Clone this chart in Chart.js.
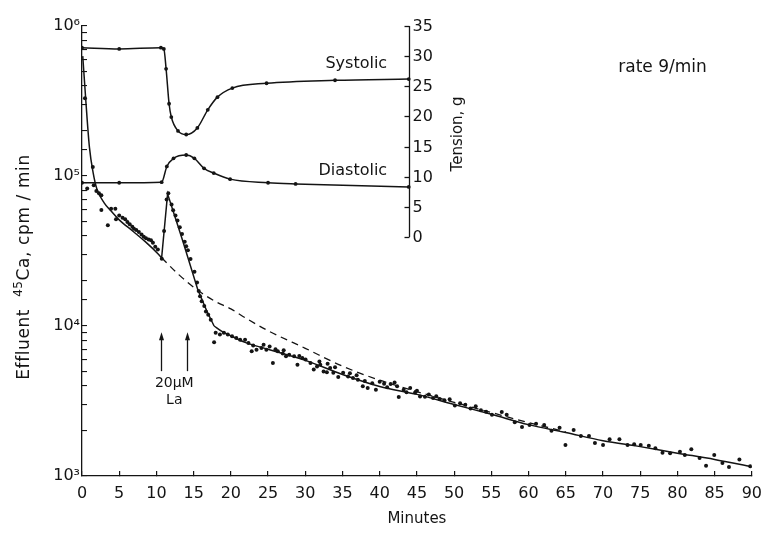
<!DOCTYPE html>
<html>
<head>
<meta charset="utf-8">
<script src="https://cdn.jsdelivr.net/npm/chart.js@4.4.1/dist/chart.umd.min.js"></script>
<style>
html,body{margin:0;padding:0;background:#fff;}
#box{position:relative;width:775px;height:533px;}
</style>
</head>
<body>
<div id="box"><canvas id="chart" width="775" height="533"></canvas></div>
<script>
// ---------------- data ----------------
const xTickLabels = [0,5,10,15,20,25,30,35,40,45,50,55,60,65,70,75,80,85,90];
const yDecades = [1e3, 1e4, 1e5, 1e6];
const tensionTicks = [0,5,10,15,20,25,30,35];

// effluent 45Ca, cpm/min (scatter)
const effluentMin = [
  0.40,0.70,1.45,1.58,1.93,2.28,2.60,2.60,3.47,3.91,4.48,4.57,5.00,5.45,5.80,6.10,6.41,6.76,6.98,7.29,
  7.64,8.00,8.30,8.60,8.96,9.27,9.53,9.84,10.19,10.72,
  11.03,11.37,11.60,12.03,12.25,12.56,12.83,13.14,13.44,13.80,14.00,14.23,14.58,15.11,15.46,15.68,15.86,16.08,16.43,16.65,
  16.96,17.30,17.75,17.96,18.53,19.06,19.59,20.16,20.73,21.25,21.91,
  22.36,22.80,23.45,24.11,24.77,25.21,25.65,26.31,26.97,27.41,27.84,28.50,28.95,29.60,30.04,30.70,31.14,31.58,32.02,32.46,
  32.90,33.34,33.77,34.43,35.09,35.75,36.41,37.07,37.73,38.39,39.49,40.59,41.47,42.34,42.56,43.22,44.10,44.76,45.42,46.08,
  47.17,48.06,
  23.0,24.4,26.0,27.1,29.2,31.9,33.0,34.0,36.0,36.9,38.0,39.0,40.0,41.0,42.0,43.6,45.0,46.6,47.6,
  48.7,49.4,50.1,50.8,51.5,52.2,52.9,53.6,54.3,
  55.08,56.40,57.06,58.15,59.12,60.13,61.01,62.10,63.08,64.17,64.96,66.06,67.03,68.12,68.92,70.01,70.89,72.21,73.30,74.19,
  75.07,76.16,77.04,78.00,79.02,80.34,81.00,81.87,82.98,83.85,84.95,86.05,86.93,88.33,89.78
];
const effluentCpm = [
  3.3e5,8.24e4,1.15e5,8.67e4,7.94e4,7.66e4,7.43e4,5.93e4,4.69e4,6.06e4,6.06e4,5.14e4,5.46e4,5.27e4,5.14e4,4.93e4,4.76e4,4.59e4,4.45e4,4.36e4,
  4.23e4,4.08e4,3.94e4,3.85e4,3.78e4,3.73e4,3.59e4,3.38e4,3.24e4,2.81e4,
  4.3e4,6.98e4,7.66e4,6.45e4,5.9e4,5.45e4,5.05e4,4.55e4,4.1e4,3.65e4,3.4e4,3.2e4,2.8e4,2.3e4,1.95e4,1.71e4,1.58e4,1.46e4,1.36e4,1.25e4,
  1.19e4,1.10e4,7.78e3,9.0e3,8.77e3,9.0e3,8.77e3,8.53e3,8.32e3,8.11e3,8.11e3,
  7.71e3,6.78e3,6.95e3,7.13e3,6.95e3,7.31e3,5.66e3,6.78e3,6.55e3,6.28e3,6.44e3,6.28e3,5.52e3,6.12e3,5.97e3,5.66e3,5.12e3,5.38e3,5.52e3,4.98e3,
  4.91e3,5.25e3,4.87e3,4.57e3,4.87e3,4.61e3,4.50e3,4.38e3,3.96e3,3.86e3,3.76e3,4.12e3,4.10e3,3.96e3,3.36e3,3.76e3,3.86e3,3.60e3,3.39e3,3.37e3,
  3.31e3,3.26e3,
  7.4e3,7.5e3,7.0e3,6.9e3,6.3e3,5.8e3,5.6e3,5.3e3,4.85e3,4.7e3,4.3e3,4.15e3,4.25e3,3.9e3,4.2e3,3.62e3,3.7e3,3.5e3,3.4e3,
  3.2e3,3.25e3,2.95e3,3.05e3,2.98e3,2.82e3,2.92e3,2.74e3,2.68e3,
  2.56e3,2.67e3,2.56e3,2.28e3,2.12e3,2.19e3,2.23e3,2.19e3,2.00e3,2.10e3,1.61e3,2.03e3,1.85e3,1.85e3,1.66e3,1.61e3,1.76e3,1.76e3,1.61e3,1.63e3,
  1.61e3,1.59e3,1.53e3,1.43e3,1.42e3,1.45e3,1.38e3,1.51e3,1.32e3,1.17e3,1.38e3,1.22e3,1.15e3,1.29e3,1.16e3
];

// fitted washout curve (solid), in three pieces
const fitEarlyMin = [0.1,0.5,1.0,1.5,2.0,3.0,3.7,5.0,6.8,8.5,10.3,10.7];
const fitEarlyCpm = [6.3e5,3.25e5,1.55e5,1.05e5,8.2e4,6.6e4,6.0e4,5.1e4,4.3e4,3.65e4,3.0e4,2.85e4];
const spikeMin = [10.7,11.5,13.5,15.55,16.8,17.75];
const spikeCpm = [2.85e4,7.6e4,3.75e4,1.75e4,1.25e4,1.0e4];
const tailMin = [17.75,18.8,20,22,25,30,35,40,45,50,55,60,65,70,75,80,85,90];
const tailCpm = [1.0e4,9.2e3,8.6e3,7.75e3,7.0e3,5.9e3,4.75e3,3.95e3,3.5e3,3.0e3,2.58e3,2.2e3,1.95e3,1.72e3,1.57e3,1.42e3,1.29e3,1.15e3];
// extrapolated washout without La (dashed)
const dashMin = [10.7,13,15.55,18,20,22,25,30,35,40,45,50,55,60,65];
const dashCpm = [2.85e4,2.2e4,1.73e4,1.45e4,1.3e4,1.13e4,9.3e3,7.1e3,5.4e3,4.35e3,3.65e3,3.1e3,2.65e3,2.27e3,1.97e3];

// tension, g
const systolicMin = [0,5,10.6,11.0,11.3,11.7,12.0,12.9,14.0,15.5,16.9,18.2,20.2,24.8,34,43.9];
const systolicG   = [31.4,31.2,31.4,31.2,27.9,22.1,19.9,17.6,17.0,18.1,21.1,23.2,24.7,25.5,26.0,26.2];
const diastolicMin = [0,5,10.7,11.4,12.3,14.0,15.1,16.4,17.7,19.9,25.0,28.7,43.9];
const diastolicG   = [9.0,9.0,9.1,11.7,13.05,13.6,13.05,11.4,10.6,9.6,9.0,8.8,8.3];

// La application arrows (minutes) and their span (cpm)
const laArrowMin = [10.6, 14.1];
const laArrowCpm = [5.0e3, 9.1e3];
const tensionAxisMin = 43.9;

// ---------------- presentation ----------------
const FONT = "'DejaVu Sans', 'Liberation Sans', sans-serif";
const INK = '#141414';
const SUP = {'0':'⁰','1':'¹','2':'²','3':'³','4':'⁴','5':'⁵','6':'⁶','7':'⁷','8':'⁸','9':'⁹'};

const notes = [
  {text:'Systolic',   min:41.0, val:28.7,  axis:'yT', align:'right',  size:16},
  {text:'Diastolic',  min:41.0, val:10.9,  axis:'yT', align:'right',  size:16},
  {text:'rate 9/min', min:78.0, val:5.3e5, axis:'y',  align:'center', size:17},
  {text:'20μM',       min:12.4, val:4.17e3,axis:'y',  align:'center', size:14},
  {text:'La',         min:12.4, val:3.21e3,axis:'y',  align:'center', size:14}
];

function pts(xs, ys){ const n = Math.min(xs.length, ys.length); const o=[]; for(let i=0;i<n;i++) o.push({x:xs[i], y:ys[i]}); return o; }

const overlay = {
  id: 'overlay',
  afterDraw(chart){
    const {ctx, chartArea, scales} = chart;
    const x = scales.x, y = scales.y, yT = scales.yT;
    ctx.save();
    ctx.strokeStyle = INK; ctx.fillStyle = INK; ctx.lineWidth = 1.3;

    // tension axis
    const ax = Math.round(x.getPixelForValue(tensionAxisMin)) + 0.5;
    const yA = yT.getPixelForValue(tensionTicks[0]);
    const yB = yT.getPixelForValue(tensionTicks[tensionTicks.length-1]);
    ctx.beginPath(); ctx.moveTo(ax, yA); ctx.lineTo(ax, yB); ctx.stroke();
    ctx.font = '16px ' + FONT; ctx.textAlign = 'left'; ctx.textBaseline = 'middle';
    tensionTicks.forEach(v => {
      const py = Math.round(yT.getPixelForValue(v)) + 0.5;
      ctx.beginPath(); ctx.moveTo(ax - 5, py); ctx.lineTo(ax, py); ctx.stroke();
      ctx.fillText(String(v), ax + 3, py);
    });
    // tension title
    ctx.save();
    ctx.translate(x.getPixelForValue(50.6), yT.getPixelForValue(17.1));
    ctx.rotate(-Math.PI/2);
    ctx.font = '15px ' + FONT; ctx.textAlign = 'center'; ctx.textBaseline = 'middle';
    ctx.fillText('Tension, g', 0, 0);
    ctx.restore();

    // left axis title, with a real superscript for 45
    ctx.save();
    ctx.translate(25, (chartArea.top + chartArea.bottom)/2 + 16);
    ctx.rotate(-Math.PI/2);
    ctx.textBaseline = 'middle'; ctx.textAlign = 'left';
    try { ctx.letterSpacing = '0.6px'; } catch(e) {}
    const parts = [
      {t:'Effluent  ', f:'17px ' + FONT, dy:0},
      {t:'45', f:'12px ' + FONT, dy:-6},
      {t:'Ca, cpm / min', f:'17px ' + FONT, dy:0}
    ];
    let total = 0;
    parts.forEach(p => { ctx.font = p.f; p.w = ctx.measureText(p.t).width; total += p.w; });
    let cx = -total/2;
    parts.forEach(p => { ctx.font = p.f; ctx.fillText(p.t, cx, p.dy); cx += p.w; });
    ctx.restore();

    // text notes
    notes.forEach(n => {
      ctx.font = n.size + 'px ' + FONT; ctx.textAlign = n.align; ctx.textBaseline = 'middle';
      const sc = n.axis === 'yT' ? yT : y;
      ctx.fillText(n.text, x.getPixelForValue(n.min), sc.getPixelForValue(n.val));
    });

    // La arrows
    laArrowMin.forEach(m => {
      const px = Math.round(x.getPixelForValue(m)) + 0.5;
      const yTail = y.getPixelForValue(laArrowCpm[0]);
      const yTip = y.getPixelForValue(laArrowCpm[1]);
      ctx.beginPath(); ctx.moveTo(px, yTail); ctx.lineTo(px, yTip + 6); ctx.stroke();
      ctx.beginPath(); ctx.moveTo(px, yTip); ctx.lineTo(px - 2.5, yTip + 8); ctx.lineTo(px + 2.5, yTip + 8); ctx.closePath(); ctx.fill();
    });
    ctx.restore();
  }
};

const lineBase = {showLine:true, pointRadius:0, borderColor:INK, borderWidth:1.5, fill:false};

new Chart(document.getElementById('chart'), {
  type: 'scatter',
  data: {
    datasets: [
      Object.assign({}, lineBase, {label:'Systolic', data:pts(systolicMin, systolicG), yAxisID:'yT',
        pointRadius:1.9, pointBackgroundColor:INK, pointBorderWidth:0, cubicInterpolationMode:'monotone'}),
      Object.assign({}, lineBase, {label:'Diastolic', data:pts(diastolicMin, diastolicG), yAxisID:'yT',
        pointRadius:1.9, pointBackgroundColor:INK, pointBorderWidth:0, cubicInterpolationMode:'monotone'}),
      Object.assign({}, lineBase, {label:'fit early', data:pts(fitEarlyMin, fitEarlyCpm), yAxisID:'y', cubicInterpolationMode:'monotone'}),
      Object.assign({}, lineBase, {label:'La response', data:pts(spikeMin, spikeCpm), yAxisID:'y', tension:0}),
      Object.assign({}, lineBase, {label:'fit late', data:pts(tailMin, tailCpm), yAxisID:'y', cubicInterpolationMode:'monotone'}),
      Object.assign({}, lineBase, {label:'no La (extrapolated)', data:pts(dashMin, dashCpm), yAxisID:'y', borderWidth:1.3,
        borderDash:[7,5], cubicInterpolationMode:'monotone'}),
      {label:'Effluent 45Ca', data:pts(effluentMin, effluentCpm), yAxisID:'y', showLine:false,
        pointRadius:2, pointBackgroundColor:INK, pointBorderWidth:0, pointStyle:'circle'}
    ]
  },
  options: {
    responsive:false, animation:false, devicePixelRatio:1,
    layout:{padding:{top:26, right:10, left:0, bottom:0}},
    plugins:{legend:{display:false}, tooltip:{enabled:false}},
    scales:{
      x:{
        type:'linear', min:0, max:90,
        afterBuildTicks(s){ s.ticks = xTickLabels.map(v => ({value:v})); },
        ticks:{autoSkip:false, maxRotation:0, color:INK, padding:13, font:{family:FONT, size:16},
          callback:(v)=>String(v)},
        grid:{drawOnChartArea:false, tickLength:-5, color:INK, lineWidth:1.2},
        border:{color:INK, width:1.3},
        title:{display:true, text:'Minutes', color:INK, font:{family:FONT, size:15}, padding:{top:0, bottom:5}},
        afterFit(s){ s.height = 57; }
      },
      y:{
        type:'logarithmic', min:1e3, max:1e6, position:'left',
        ticks:{autoSkip:false, color:INK, padding:7, font:{family:FONT, size:16},
          callback:(v)=>{ const e = Math.log10(v); if (Math.abs(e-Math.round(e))<1e-9 && yDecades.includes(Math.pow(10,Math.round(e)))) return '10' + String(Math.round(e)).split('').map(c=>SUP[c]).join(''); return ''; }},
        grid:{drawOnChartArea:false, tickLength:-5, color:INK, lineWidth:1.1},
        border:{color:INK, width:1.3},
        afterFit(s){ s.width = 82; }
      },
      yT:{type:'linear', min:-39.64, max:35, display:false, position:'right'}
    }
  },
  plugins:[overlay]
});
</script>
</body>
</html>
